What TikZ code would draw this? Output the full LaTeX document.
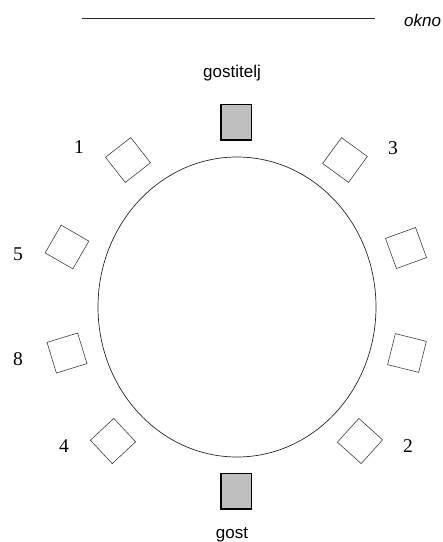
\documentclass[tikz,border=0pt]{standalone}
\usepackage{fontspec}
\setmainfont{Liberation Serif}
\newfontfamily\arialf{Liberation Sans}
\usetikzlibrary{shapes.geometric}
\begin{document}
\begin{tikzpicture}[x=1pt,y=-1pt,
  chair/.style={draw=black!75, line width=0.6pt, minimum width=32pt, minimum height=32pt, inner sep=0pt, fill=white},
  host/.style={draw=black, line width=1.5pt, fill=black!25, minimum width=30.5pt, minimum height=35.5pt, inner sep=0pt},
  num/.style={font=\fontsize{19.5}{20}\selectfont, inner sep=0pt, anchor=base},
  lbl/.style={font=\arialf\fontsize{17}{18}\selectfont, inner sep=0pt, anchor=base},
  tablestyle/.style={ellipse, draw=black!85, line width=0.7pt, minimum width=278pt, minimum height=300pt, inner sep=0pt}]
\useasboundingbox (0,0) rectangle (443,542);
% window
\coordinate (wl) at (82,18);
\coordinate (wr) at (375,18);
\draw[line width=0.9pt, draw=black!85] (wl) -- (wr);
\node[lbl, font=\arialf\itshape\fontsize{17}{18}\selectfont, anchor=base west] (okno) at (404,26) {okno};
% table
\node[tablestyle] (table) at (237,307) {};
% host and guest
\node[lbl] (hostlbl) at (232,77) {gostitelj};
\node[host] (host) at (236,122) {};
\node[host] (guest) at (236,491) {};
\node[lbl] (guestlbl) at (232,538) {gost};
% chairs
\node[chair, rotate=38] (c1) at (128,160) {};
\node[chair, rotate=54] (c3) at (345,160) {};
\node[chair, rotate=60] (c5) at (67,247) {};
\node[chair, rotate=20] (c6) at (406,248) {};
\node[chair, rotate=17] (c8) at (67,353) {};
\node[chair, rotate=-14] (c7) at (407,353) {};
\node[chair, rotate=43] (c4) at (113,441) {};
\node[chair, rotate=48] (c2) at (360,441) {};
% numbers
\node[num] (n1) at (79,153) {1};
\node[num] (n3) at (393,154) {3};
\node[num] (n5) at (18,260) {5};
\node[num] (n8) at (18,365) {8};
\node[num] (n4) at (64,452) {4};
\node[num] (n2) at (408,452) {2};
\end{tikzpicture}
\end{document}
